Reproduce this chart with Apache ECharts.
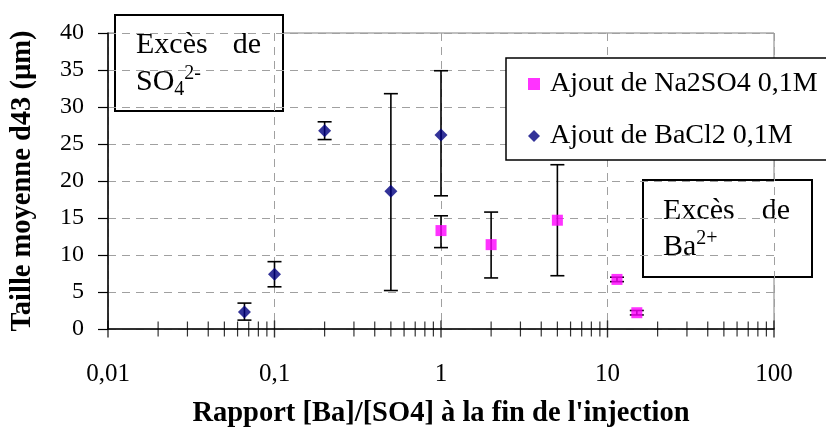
<!DOCTYPE html>
<html>
<head>
<meta charset="utf-8">
<script src="https://cdn.jsdelivr.net/npm/echarts@6/dist/echarts.min.js"></script>
<style>
    html,body{margin:0;padding:0;background:#fff;}
    #main{width:826px;height:432px;}
</style>
</head>
<body>
<div id="main"></div>
<script>
    // BaCl2 0,1M
    var ratioBa = [0.066, 0.1, 0.2, 0.5, 1];
    var sizeBa = [2.3, 7.4, 26.8, 18.6, 26.2];
    var lowBa = [1.2, 5.7, 25.6, 5.2, 18.0];
    var highBa = [3.5, 9.1, 28.0, 31.8, 34.9];

    // Na2SO4 0,1M
    var ratioNa = [1, 2, 5, 11.4, 15];
    var sizeNa = [13.3, 11.4, 14.7, 6.7, 2.2];
    var lowNa = [11.0, 6.9, 7.2, 6.4, 1.9];
    var highNa = [15.3, 15.8, 22.2, 7.0, 2.5];

    // graduations de l'axe log
    var majorTicks = [0.01, 0.1, 1, 10, 100];
    var minorTicks = [0.02, 0.03, 0.04, 0.05, 0.06, 0.07, 0.08, 0.09,
                      0.2, 0.3, 0.4, 0.5, 0.6, 0.7, 0.8, 0.9,
                      2, 3, 4, 5, 6, 7, 8, 9,
                      20, 30, 40, 50, 60, 70, 80, 90];

    var nameNa = 'Ajout de Na2SO4 0,1M';
    var nameBa = 'Ajout de BaCl2 0,1M';
    var font = '"Liberation Serif", "Times New Roman", serif';

    function pts(xs, ys){
        var out = [];
        xs.forEach(function(x, i){ out.push([x, ys[i]]); });
        return out;
    }
    function bars(xs, lo, hi){
        var out = [];
        xs.forEach(function(x, i){ out.push([x, lo[i], hi[i]]); });
        return out;
    }
    function tickPts(xs){
        return xs.map(function(x){ return [x, 0]; });
    }

    function errorBar(params, api){
        var x = api.value(0);
        var top = api.coord([x, api.value(2)]);
        var bot = api.coord([x, api.value(1)]);
        var w = 7;
        var st = {stroke: '#000', lineWidth: 1.6};
        return {
            type: 'group',
            children: [
                {type: 'line', shape: {x1: top[0], y1: top[1], x2: bot[0], y2: bot[1]}, style: st},
                {type: 'line', shape: {x1: top[0] - w, y1: top[1], x2: top[0] + w, y2: top[1]}, style: st},
                {type: 'line', shape: {x1: bot[0] - w, y1: bot[1], x2: bot[0] + w, y2: bot[1]}, style: st}
            ]
        };
    }

    function labelX(v){
        if (v >= 1) return String(Math.round(v));
        return String(v).replace('.', ',');
    }

    var chart = echarts.init(document.getElementById('main'));

    var option = {
        animation: false,
        backgroundColor: '#fff',
        grid: {
            left: 108, top: 33, right: 52, bottom: 103,
            outerBoundsMode: 'none',
            show: true, borderColor: '#808080', borderWidth: 1
        },
        xAxis: {
            type: 'log',
            logBase: 10,
            min: 0.01,
            max: 100,
            name: "Rapport [Ba]/[SO4] à la fin de l'injection",
            nameLocation: 'middle',
            nameGap: 70,
            nameTextStyle: {fontFamily: font, fontSize: 28.5, fontWeight: 'bold', color: '#000'},
            axisLine: {lineStyle: {color: '#000', width: 1.5}},
            axisTick: {show: false},
            axisLabel: {fontFamily: font, fontSize: 25, color: '#000', margin: 33, formatter: labelX},
            splitLine: {show: true, lineStyle: {color: '#a0a0a0', type: [8, 6], width: 1}}
        },
        yAxis: {
            type: 'value',
            min: 0,
            max: 40,
            interval: 5,
            name: 'Taille moyenne d43 (µm)',
            nameLocation: 'middle',
            nameGap: 71,
            nameTextStyle: {fontFamily: font, fontSize: 28.5, fontWeight: 'bold', color: '#000'},
            axisLine: {show: true, lineStyle: {color: '#000', width: 1.5}},
            axisTick: {show: true, length: 10, lineStyle: {color: '#000', width: 1.2}},
            axisLabel: {fontFamily: font, fontSize: 24, color: '#000', margin: 24},
            splitLine: {show: true, lineStyle: {color: '#a0a0a0', type: [8, 6], width: 1}}
        },
        legend: {
            orient: 'vertical',
            left: 506,
            top: 58,
            width: 312,
            padding: [12, 20, 10, 22],
            itemGap: 24,
            itemWidth: 12,
            itemHeight: 12,
            borderColor: '#000',
            borderWidth: 1.5,
            backgroundColor: '#fff',
            textStyle: {fontFamily: font, fontSize: 28, color: '#000', padding: [0, 0, 0, 5]},
            data: [nameNa, nameBa]
        },
        series: [
            {
                type: 'custom',
                renderItem: errorBar,
                data: bars(ratioBa, lowBa, highBa),
                encode: {x: 0, y: [1, 2]},
                z: 2, silent: true
            },
            {
                type: 'custom',
                renderItem: errorBar,
                data: bars(ratioNa, lowNa, highNa),
                encode: {x: 0, y: [1, 2]},
                z: 2, silent: true
            },
            {
                name: nameNa,
                type: 'scatter',
                symbol: 'rect',
                symbolSize: 11,
                itemStyle: {color: '#ff00ff'},
                data: pts(ratioNa, sizeNa),
                z: 4
            },
            {
                name: nameBa,
                type: 'scatter',
                symbol: 'diamond',
                symbolSize: 13,
                itemStyle: {color: '#000080'},
                data: pts(ratioBa, sizeBa),
                z: 4
            },
            // traits de graduation qui traversent l'axe
            {
                type: 'scatter',
                symbol: 'rect',
                symbolSize: [1.4, 17],
                itemStyle: {color: '#000'},
                data: tickPts(majorTicks),
                clip: false, silent: true, z: 5
            },
            {
                type: 'scatter',
                symbol: 'rect',
                symbolSize: [1.2, 15],
                itemStyle: {color: '#000'},
                data: tickPts(minorTicks),
                clip: false, silent: true, z: 5
            }
        ],
        graphic: [
            // Excès de SO4 2-
            {
                type: 'group', z: 100,
                children: [
                    {type: 'rect', shape: {x: 115, y: 15, width: 168, height: 96},
                     style: {fill: '#fff', stroke: '#000', lineWidth: 2}},
                    {type: 'text', x: 136, y: 45,
                     style: {text: 'Excès', font: '30px ' + font, fill: '#000', verticalAlign: 'middle'}},
                    {type: 'text', x: 261, y: 45,
                     style: {text: 'de', font: '30px ' + font, fill: '#000', align: 'right', verticalAlign: 'middle'}},
                    {type: 'text', x: 136, y: 82,
                     style: {
                        text: '{n|SO}{sub|4}{sup|2-}', verticalAlign: 'middle', fill: '#000',
                        rich: {
                            n: {fontFamily: font, fontSize: 30, lineHeight: 36},
                            sub: {fontFamily: font, fontSize: 20, lineHeight: 20, verticalAlign: 'bottom'},
                            sup: {fontFamily: font, fontSize: 20, lineHeight: 20, verticalAlign: 'top'}
                        }
                     }}
                ]
            },
            // Excès de Ba 2+
            {
                type: 'group', z: 100,
                children: [
                    {type: 'rect', shape: {x: 643, y: 180, width: 169, height: 97},
                     style: {fill: '#fff', stroke: '#000', lineWidth: 2}},
                    {type: 'text', x: 663, y: 211,
                     style: {text: 'Excès', font: '30px ' + font, fill: '#000', verticalAlign: 'middle'}},
                    {type: 'text', x: 790, y: 211,
                     style: {text: 'de', font: '30px ' + font, fill: '#000', align: 'right', verticalAlign: 'middle'}},
                    {type: 'text', x: 663, y: 247,
                     style: {
                        text: '{n|Ba}{sup|2+}', verticalAlign: 'middle', fill: '#000',
                        rich: {
                            n: {fontFamily: font, fontSize: 30, lineHeight: 36},
                            sup: {fontFamily: font, fontSize: 20, lineHeight: 20, verticalAlign: 'top'}
                        }
                     }}
                ]
            }
        ]
    };

    chart.setOption(option);
</script>
</body>
</html>
